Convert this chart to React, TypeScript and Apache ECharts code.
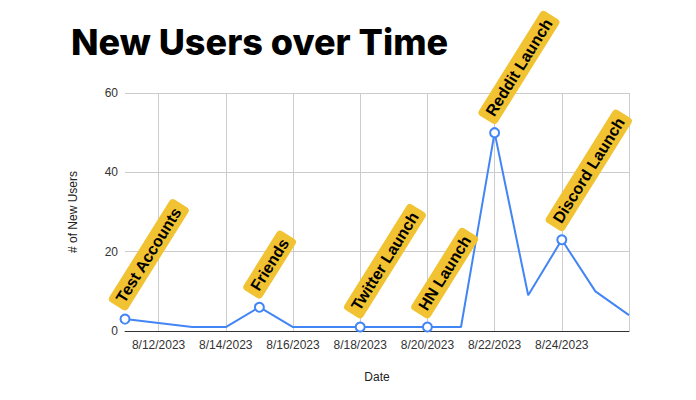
import React, { useEffect, useRef } from "react";
import * as echarts from "echarts";

const dates = [
  "8/11/2023", "8/12/2023", "8/13/2023", "8/14/2023", "8/15/2023", "8/16/2023",
  "8/17/2023", "8/18/2023", "8/19/2023", "8/20/2023", "8/21/2023", "8/22/2023",
  "8/23/2023", "8/24/2023", "8/25/2023", "8/26/2023",
];
const newUsers = [3, 2, 1, 1, 6, 1, 1, 1, 1, 1, 1, 50, 9, 23, 10, 4];
const annotationDates = ["8/11/2023", "8/15/2023", "8/18/2023", "8/20/2023", "8/22/2023", "8/24/2023"];
const annotationTexts = ["Test Accounts", "Friends", "Twitter Launch", "HN Launch", "Reddit Launch", "Discord Launch"];
const yMin = 0;
const yMax = 60;
const yStep = 20;

const TICK_FONT = "'Liberation Sans', Arial, sans-serif";

export default function App() {
  const ref = useRef<HTMLDivElement>(null);

  useEffect(() => {
    document.body.style.margin = "0";
    const chart = echarts.init(ref.current!, undefined, { renderer: "svg" });

    const seriesData = dates.map((d, i) => {
      const k = annotationDates.indexOf(d);
      if (k < 0) return { value: newUsers[i], symbol: "none" };
      return {
        value: newUsers[i],
        symbol: "emptyCircle",
        label: { show: true, formatter: annotationTexts[k] },
      };
    });

    const everyOther = (idx: number) => idx % 2 === 1;

    chart.setOption({
      animation: false,
      backgroundColor: "#fff",
      title: {
        text: "New Users over Time",
        left: 66,
        top: 19,
        textStyle: {
          fontFamily: "Inter, 'Noto Sans', sans-serif",
          fontWeight: 800,
          fontSize: 36,
          color: "#000",
        },
      },
      grid: { left: 125, right: 67, top: 93, bottom: 69, containLabel: false },
      xAxis: {
        type: "category",
        data: dates,
        boundaryGap: false,
        name: "Date",
        nameLocation: "middle",
        nameGap: 40,
        nameTextStyle: { fontFamily: TICK_FONT, fontSize: 12, color: "#222" },
        axisLine: { show: true, lineStyle: { color: "#333", width: 1 } },
        axisTick: { show: false, interval: everyOther },
        axisLabel: {
          interval: (idx: number) => idx % 2 === 1 && idx !== dates.length - 1,
          margin: 8,
          fontFamily: TICK_FONT,
          fontSize: 12,
          color: "#333",
        },
        splitLine: { show: true, interval: everyOther, lineStyle: { color: "#ccc", width: 1 } },
      },
      yAxis: {
        type: "value",
        min: yMin,
        max: yMax,
        interval: yStep,
        name: "# of New Users",
        nameLocation: "middle",
        nameGap: 46,
        nameTextStyle: { fontFamily: TICK_FONT, fontSize: 12, color: "#222" },
        axisLine: { show: false },
        axisTick: { show: false },
        axisLabel: { margin: 7, fontFamily: TICK_FONT, fontSize: 12, color: "#333" },
        splitLine: { show: true, lineStyle: { color: "#ccc", width: 1 } },
      },
      series: [
        {
          type: "line",
          data: seriesData,
          showAllSymbol: true,
          symbolSize: 9,
          lineStyle: { color: "#4285F4", width: 2 },
          itemStyle: { color: "#4285F4", borderWidth: 2 },
          label: {
            show: false,
            position: "top",
            distance: 0,
            rotate: 58,
            offset: [2, -11],
            align: "left",
            verticalAlign: "middle",
            backgroundColor: "#F1C232",
            borderRadius: 4,
            padding: [3, 6, 3, 6],
            color: "#000",
            fontFamily: TICK_FONT,
            fontWeight: "bold",
            fontSize: 16,
          },
          z: 3,
        },
      ],
    });

    return () => chart.dispose();
  }, []);

  return <div ref={ref} style={{ width: 696, height: 400 }} />;
}
